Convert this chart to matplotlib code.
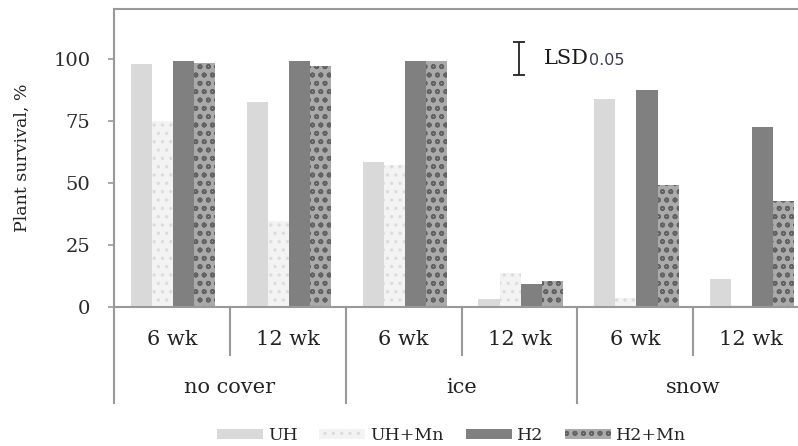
import numpy as np
import matplotlib
matplotlib.use('Agg')
import matplotlib.pyplot as plt
import matplotlib.transforms as mtransforms

plt.rcParams['font.family'] = 'DejaVu Serif'
plt.rcParams['hatch.linewidth'] = 1.2

# data
periods = ['6 wk', '12 wk', '6 wk', '12 wk', '6 wk', '12 wk']
covers = ['no cover', 'ice', 'snow']
uh = [97.7, 82.5, 58.5, 3.0, 83.8, 11.2]
uh_mn = [74.8, 34.6, 57.3, 13.5, 3.6, 0.5]
h2 = [99.0, 99.0, 99.0, 9.3, 87.3, 72.6]
h2_mn = [98.4, 97.2, 99.0, 10.5, 49.2, 42.7]
lsd_x, lsd_y, lsd = 3.0, 100.0, 13.1

series = [
    ('UH', uh, dict(color='#d9d9d9')),
    ('UH+Mn', uh_mn, dict(facecolor='#f3f3f3', edgecolor='#dcdcdc', hatch='..')),
    ('H2', h2, dict(color='#808080')),
    ('H2+Mn', h2_mn, dict(facecolor='#aaaaaa', edgecolor='#626262', hatch='oo')),
]

fig = plt.figure(figsize=(7.98, 4.46), dpi=100)
ax = fig.add_axes([0.1429, 0.3123, 0.871, 0.6675])

x = np.arange(len(periods))
w = 0.182
handles = []
for i, (name, vals, style) in enumerate(series):
    b = ax.bar(x + (i - 1.5) * w + 0.01, vals, w, linewidth=0, label=name, **style)
    handles.append(b)

# LSD bar
ax.errorbar([lsd_x], [lsd_y], yerr=[lsd / 2], fmt='none', ecolor='#222222',
            elinewidth=1.3, capsize=4.2, capthick=1.3)
t = ax.text(lsd_x + 0.21, lsd_y, 'LSD', fontsize=15, va='center', ha='left', color='#1a1a1a')
ax.annotate('0.05', xy=(1.0, 0.0), xycoords=t, va='bottom', ha='left', fontsize=11.5,
            color='#3a3a55', family='DejaVu Sans')

ax.set_xlim(-0.5, 5.5)
ax.set_ylim(0, 120)
ax.set_yticks([0, 25, 50, 75, 100])
ax.set_xticks([])
ax.tick_params(axis='y', length=4, width=1.2, color='#999999', labelsize=14,
               pad=13, labelcolor='#2a2a2a')
for s in ['left', 'top', 'bottom', 'right']:
    ax.spines[s].set_color('#999999')
    ax.spines[s].set_linewidth(1.5)
ax.set_ylabel('Plant survival, %', fontsize=12.5, color='#222222', labelpad=16)

# two-level category axis
trans = mtransforms.blended_transform_factory(ax.transData, ax.transAxes)
for xs in [0.5, 2.5, 4.5]:
    ax.plot([xs, xs], [0, -0.162], transform=trans, color='#999999', lw=1.5, clip_on=False)
for xs in [-0.5, 1.5, 3.5, 5.5]:
    ax.plot([xs, xs], [0, -0.323], transform=trans, color='#999999', lw=1.5, clip_on=False)
for xi, lab in zip(x, periods):
    ax.text(xi, -0.109, lab, transform=trans, ha='center', va='center', fontsize=15,
            color='#222222')
for k, lab in enumerate(covers):
    ax.text(2 * k + 0.5, -0.27, lab, transform=trans, ha='center', va='center',
            fontsize=15, color='#222222')

fig.legend(handles=handles, labels=[s[0] for s in series], loc='center',
           bbox_to_anchor=(0.566, 0.024), ncol=4, frameon=False, fontsize=12.5,
           handlelength=2.65, handleheight=0.5, handletextpad=0.3, columnspacing=1.25,
           labelcolor='#222222')

fig.savefig('out.png', dpi=100)
